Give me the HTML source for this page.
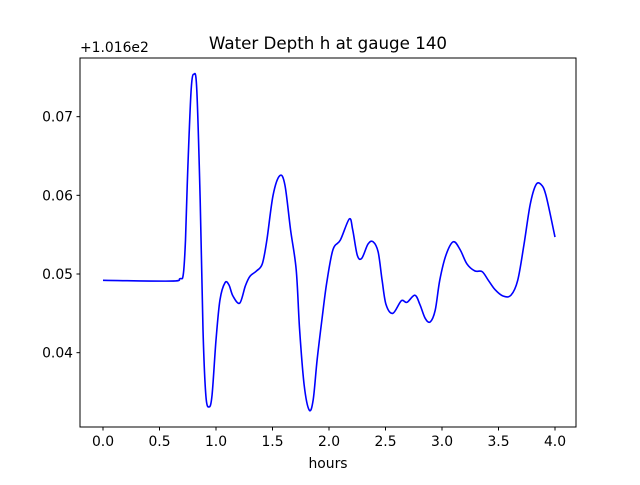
<!DOCTYPE html>
<html><head><meta charset="utf-8"><style>
body{margin:0;background:#fff}
svg text{font-family:"DejaVu Sans","Liberation Sans",sans-serif;fill:#000}
</style></head><body>
<svg id="chart" width="640" height="480" viewBox="0 0 640 480" xmlns="http://www.w3.org/2000/svg">
<rect width="640" height="480" fill="#fff"/>
<text x="328" y="49" font-size="16.7" text-anchor="middle">Water Depth h at gauge 140</text>
<text x="80" y="52" font-size="13.9">+1.016e2</text>
<text x="328" y="468" font-size="13.9" text-anchor="middle">hours</text>
<g id="xticks"></g>
<g id="yticks"></g>
<path id="line" fill="none" stroke="#0000ff" stroke-width="1.6" stroke-linejoin="round"/>
<rect x="80" y="58" width="496" height="369" fill="none" stroke="#000" stroke-width="1"/>
</svg>
<script>
const hours=[0,0.6,0.68,0.71,0.73,0.75,0.78,0.805,0.83,0.86,0.885,0.91,0.938,0.965,1.0,1.035,1.08,1.115,1.15,1.21,1.26,1.30,1.36,1.41,1.45,1.505,1.565,1.61,1.66,1.71,1.74,1.78,1.825,1.86,1.895,1.94,1.98,2.035,2.10,2.18,2.21,2.25,2.29,2.345,2.39,2.435,2.47,2.505,2.565,2.64,2.69,2.76,2.805,2.85,2.895,2.94,2.98,3.035,3.10,3.16,3.22,3.29,3.355,3.41,3.47,3.54,3.61,3.67,3.725,3.78,3.83,3.875,3.92,4.0];
const depth=[0.0492,0.0491,0.0494,0.0499,0.0543,0.0632,0.0734,0.0754,0.0734,0.0594,0.0429,0.0346,0.0331,0.0346,0.0416,0.0467,0.0489,0.0486,0.0472,0.0463,0.0485,0.0497,0.0504,0.0513,0.0543,0.0600,0.0625,0.0613,0.0556,0.0505,0.0429,0.0359,0.0327,0.0340,0.0391,0.0445,0.0489,0.0531,0.0543,0.0570,0.0556,0.0524,0.0520,0.0538,0.0541,0.0528,0.0492,0.0461,0.0450,0.0466,0.0464,0.0473,0.0461,0.0444,0.0439,0.0454,0.0492,0.0524,0.0541,0.0531,0.0513,0.0504,0.0503,0.0492,0.0480,0.0472,0.0473,0.0492,0.0537,0.0588,0.0613,0.0614,0.0600,0.0547];
const xTicks=[0,0.5,1,1.5,2,2.5,3,3.5,4];
const xTickLabels=["0.0","0.5","1.0","1.5","2.0","2.5","3.0","3.5","4.0"];
const yTicks=[0.04,0.05,0.06,0.07];
const yTickLabels=["0.04","0.05","0.06","0.07"];
const NS="http://www.w3.org/2000/svg";
const X=v=>103+v*113;
const Y=v=>274-(v-0.05)*7866.7;
const xg=document.getElementById('xticks'),yg=document.getElementById('yticks');
xTicks.forEach((t,i)=>{
 const l=document.createElementNS(NS,'line');
 
 
 l.setAttribute('x1',X(t));l.setAttribute('x2',X(t));l.setAttribute('y1',427);l.setAttribute('y2',430.5);l.setAttribute('stroke','#000');
 xg.appendChild(l);
 const tx=document.createElementNS(NS,'text');
 
 
 tx.setAttribute('x',X(t));tx.setAttribute('y',446);tx.setAttribute('font-size','13.9');tx.setAttribute('text-anchor','middle');
 tx.textContent=xTickLabels[i];xg.appendChild(tx);
});
yTicks.forEach((t,i)=>{
 const l=document.createElementNS(NS,'line');
 
 
 l.setAttribute('x1',76.5);l.setAttribute('x2',80);l.setAttribute('y1',Y(t));l.setAttribute('y2',Y(t));l.setAttribute('stroke','#000');
 yg.appendChild(l);
 const tx=document.createElementNS(NS,'text');
 
 
 tx.setAttribute('x',73);tx.setAttribute('y',Y(t)+5);tx.setAttribute('font-size','13.9');tx.setAttribute('text-anchor','end');
 tx.textContent=yTickLabels[i];yg.appendChild(tx);
});
const pts=hours.map((h,i)=>[X(h),Y(depth[i])]);
let d='M'+pts[0][0]+','+pts[0][1];
for(let i=0;i<pts.length-1;i++){
 const p0=pts[Math.max(i-1,0)],p1=pts[i],p2=pts[i+1],p3=pts[Math.min(i+2,pts.length-1)];
 const c1=[p1[0]+(p2[0]-p0[0])/6,p1[1]+(p2[1]-p0[1])/6];
 const c2=[p2[0]-(p3[0]-p1[0])/6,p2[1]-(p3[1]-p1[1])/6];
 d+=' C'+c1[0]+','+c1[1]+' '+c2[0]+','+c2[1]+' '+p2[0]+','+p2[1];
}
document.getElementById('line').setAttribute('d',d);
</script>
</body></html>
